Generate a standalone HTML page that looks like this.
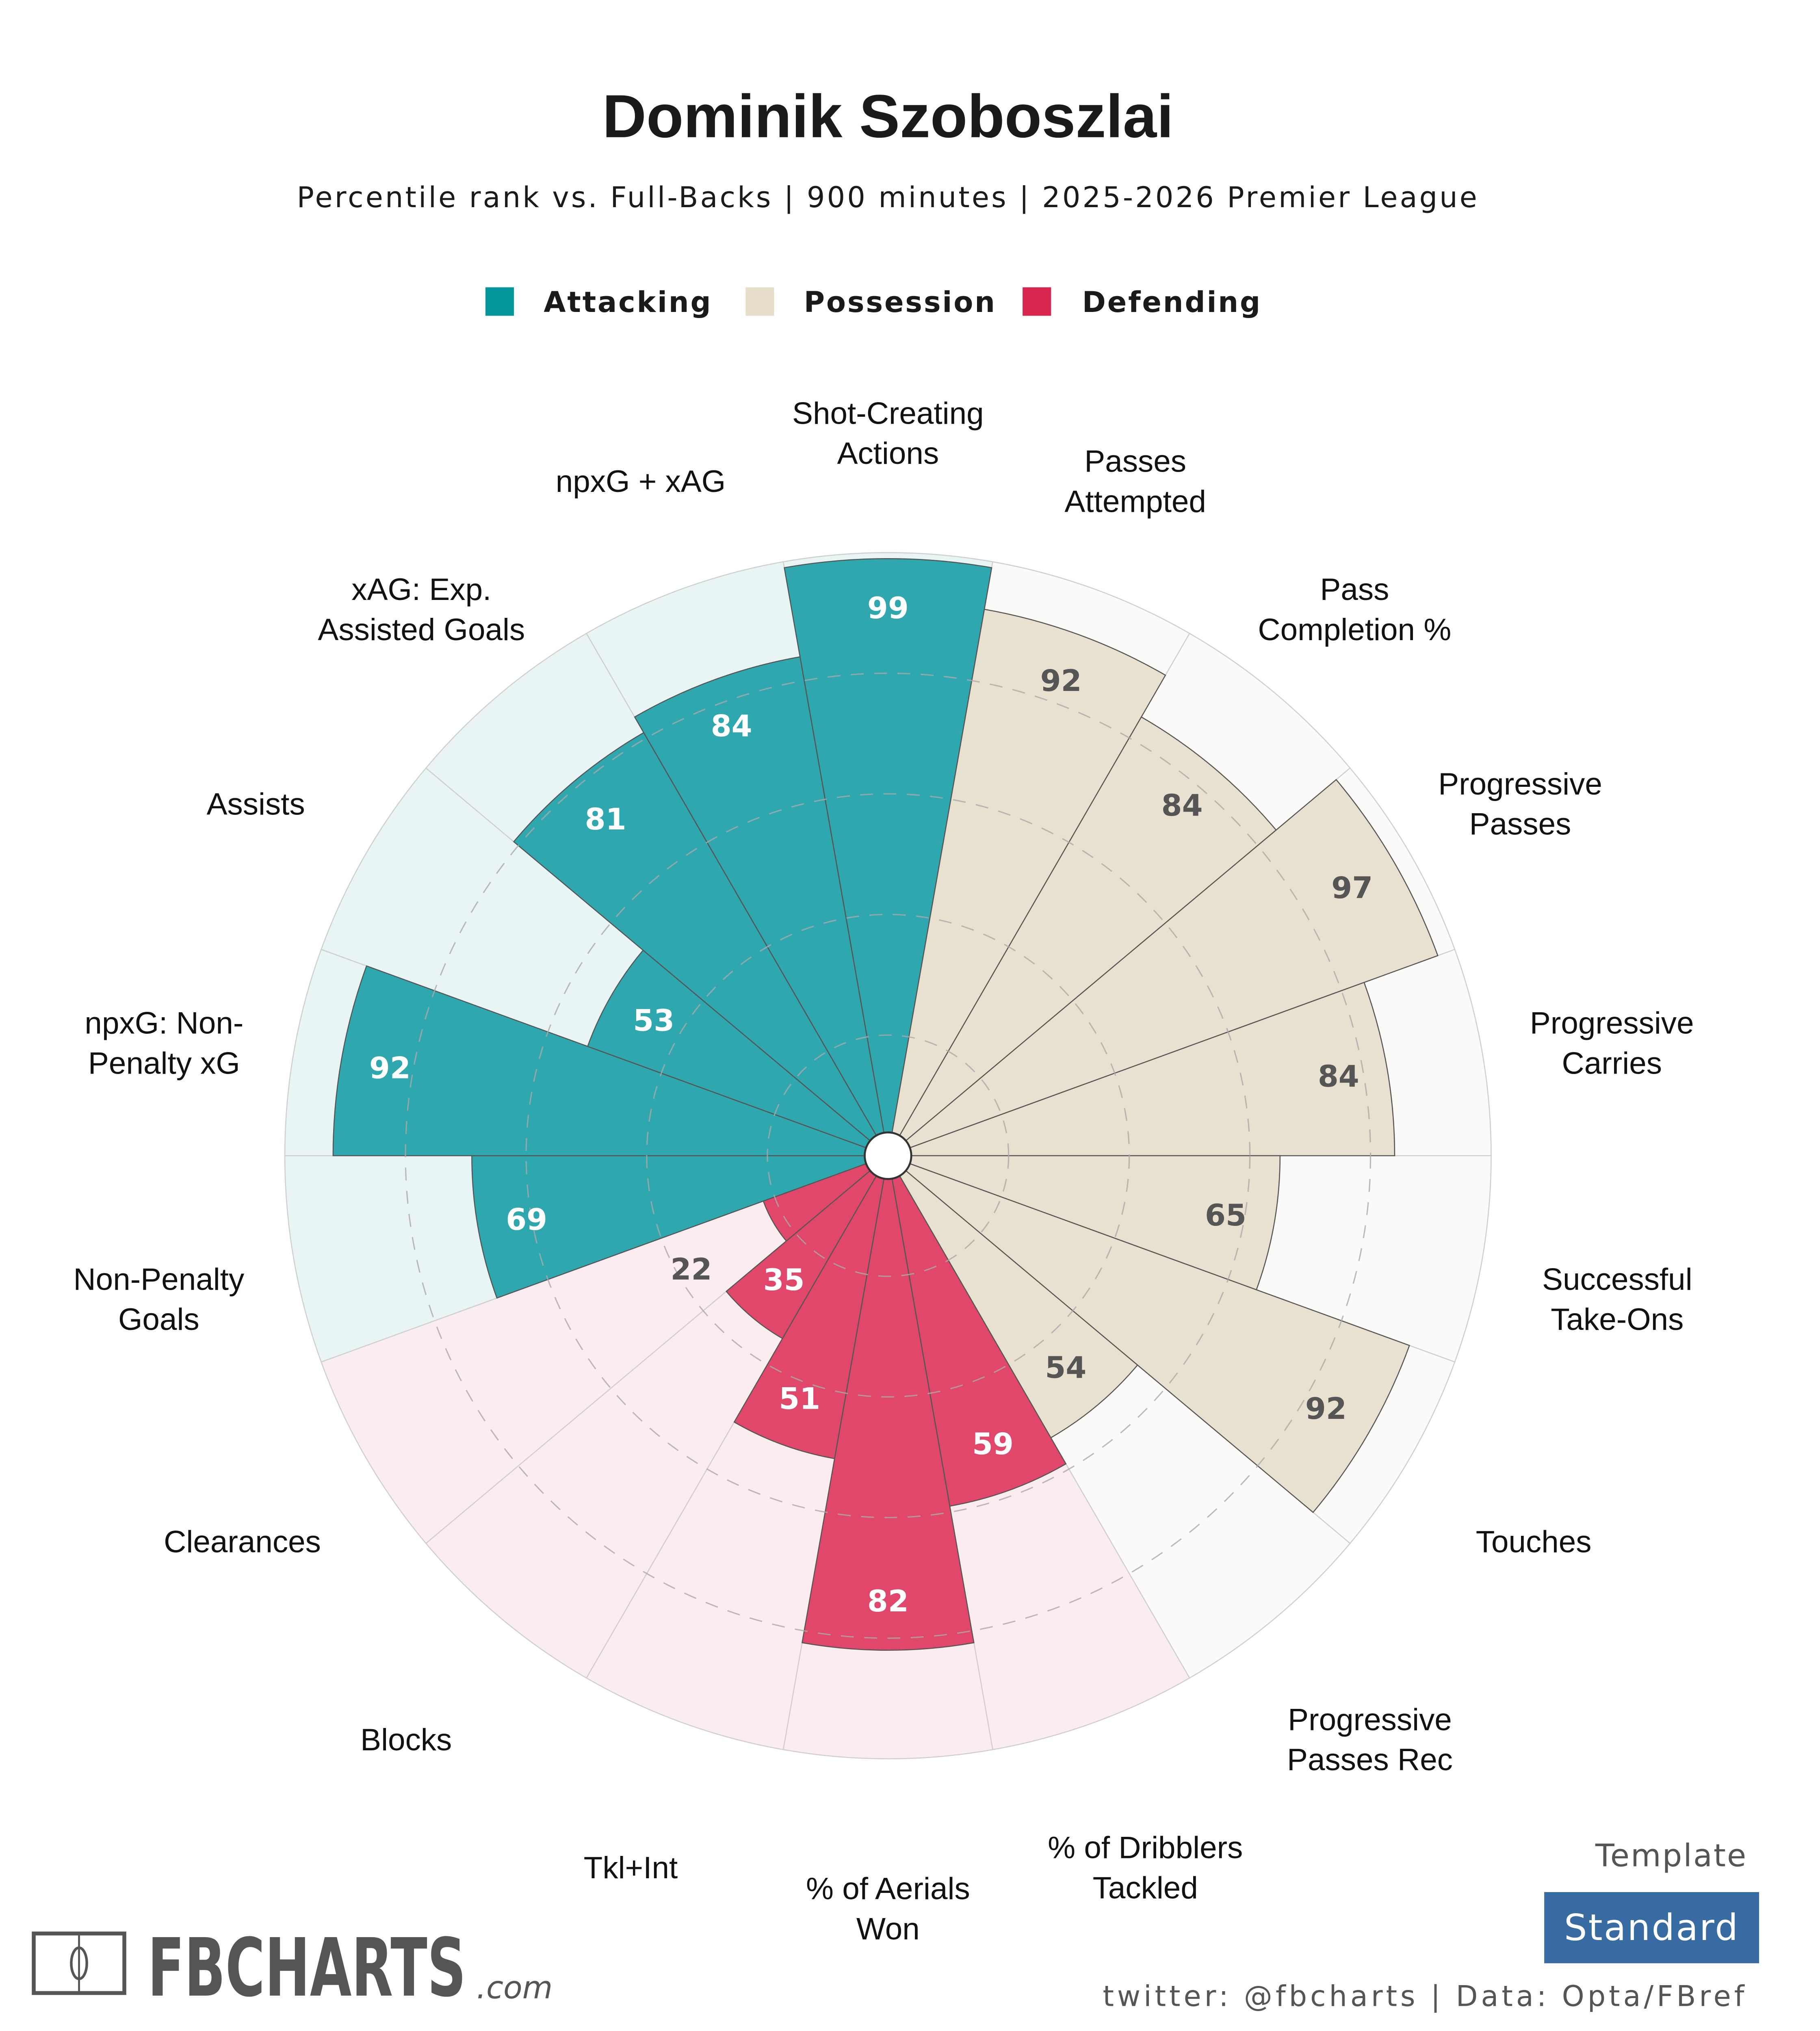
<!DOCTYPE html>
<html><head><meta charset="utf-8"><style>
html,body{margin:0;padding:0;background:#fff;width:4480px;height:5120px;overflow:hidden;}
svg{display:block;}
.lbl{font-family:"Liberation Sans",Arial,sans-serif;font-size:24px;fill:#111;}
.val{font-family:"DejaVu Sans",sans-serif;font-size:23px;font-weight:bold;}
</style></head><body>
<svg id="chart" width="4480" height="5120" viewBox="0 0 1406 1607" xmlns="http://www.w3.org/2000/svg">
<rect width="1406" height="1607" fill="#fff"/>
<text x="686" y="106" text-anchor="middle" font-family="Liberation Sans,Arial,sans-serif" font-weight="bold" font-size="47" fill="#1a1a1a">Dominik Szoboszlai</text>
<text x="686" y="160" text-anchor="middle" font-family="DejaVu Sans,sans-serif" font-size="22" fill="#1a1a1a" letter-spacing="1.6">Percentile rank vs. Full-Backs | 900 minutes | 2025-2026 Premier League</text>
<g>
<rect x="375" y="222" width="22" height="22" fill="#02979b"/>
<text x="420" y="241" font-family="DejaVu Sans,sans-serif" font-weight="bold" font-size="22" letter-spacing="1.2" fill="#1a1a1a">Attacking</text>
<rect x="576" y="222" width="22" height="22" fill="#e6dec8"/>
<text x="621" y="241" font-family="DejaVu Sans,sans-serif" font-weight="bold" font-size="22" letter-spacing="1.2" fill="#1a1a1a">Possession</text>
<rect x="790" y="222" width="22" height="22" fill="#d8264f"/>
<text x="836" y="241" font-family="DejaVu Sans,sans-serif" font-weight="bold" font-size="22" letter-spacing="1.2" fill="#1a1a1a">Defending</text>
</g>
<g id="plot"></g>
<g>
<rect x="26" y="1494" width="70" height="46" fill="none" stroke="#555" stroke-width="3"/>
<line x1="61" y1="1494" x2="61" y2="1540" stroke="#555" stroke-width="1.5"/>
<ellipse cx="61" cy="1517" rx="6" ry="12" fill="none" stroke="#555" stroke-width="2"/>
<text x="114" y="1542" font-family="DejaVu Sans,sans-serif" font-weight="bold" font-size="62" fill="#555" textLength="246" lengthAdjust="spacingAndGlyphs">FBCHARTS</text>
<text x="368" y="1544" font-family="DejaVu Sans,sans-serif" font-size="24" fill="#555" font-style="italic">.com</text>
</g>
<text x="1350" y="1442" text-anchor="end" font-family="DejaVu Sans,sans-serif" font-size="24" fill="#555" letter-spacing="1">Template</text>
<rect x="1193" y="1462" width="166" height="55" fill="#386ba2"/>
<text x="1276" y="1499" text-anchor="middle" font-family="DejaVu Sans,sans-serif" font-size="28" fill="#fff" letter-spacing="1">Standard</text>
<text x="1350" y="1550" text-anchor="end" font-family="DejaVu Sans,sans-serif" font-size="22" fill="#555" letter-spacing="2.5">twitter: @fbcharts | Data: Opta/FBref</text>
</svg>
<script>
const labels=[["Shot-Creating","Actions"],["Passes","Attempted"],["Pass","Completion %"],["Progressive","Passes"],["Progressive","Carries"],["Successful","Take-Ons"],["Touches"],["Progressive","Passes Rec"],["% of Dribblers","Tackled"],["% of Aerials","Won"],["Tkl+Int"],["Blocks"],["Clearances"],["Non-Penalty","Goals"],["npxG: Non-","Penalty xG"],["Assists"],["xAG: Exp.","Assisted Goals"],["npxG + xAG"]];
const values=[99,92,84,97,84,65,92,54,59,82,51,35,22,69,92,53,81,84];
const groups=["att","pos","pos","pos","pos","pos","pos","pos","def","def","def","def","def","att","att","att","att","att"];
const NS="http://www.w3.org/2000/svg";
const cx=686,cy=893,R=466;
const fills={att:"#2ea7ae",pos:"#e8e1d0",def:"#e0476a"};
const bgs={att:"#e9f5f5",pos:"#fbfaf8",def:"#fbecf0"};
const txt={att:"#fff",pos:"#555",def:"#fff"};
const g=document.getElementById('plot');
function rad(v){return v/100*R;}
function pt(r,a){const t=a*Math.PI/180;return [cx+r*Math.cos(t),cy-r*Math.sin(t)];}
function wedge(r,a0,a1){const p0=pt(r,a0),p1=pt(r,a1);return `M${cx},${cy}L${p0[0]},${p0[1]}A${r},${r} 0 0 1 ${p1[0]},${p1[1]}Z`;}
function mk(tag,attrs){const e=document.createElementNS(NS,tag);for(const k in attrs)e.setAttribute(k,attrs[k]);return e;}
const n=values.length,step=360/n;
values.forEach((v,i)=>{const c=90-i*step;
 const e=mk('path',{d:wedge(R,c+step/2,c-step/2),fill:bgs[groups[i]],stroke:"#cfcfcf","stroke-width":0.8});
 
 
 g.appendChild(e);});
values.forEach((v,i)=>{const c=90-i*step;
 const e=mk('path',{d:wedge(rad(v),c+step/2,c-step/2),fill:fills[groups[i]],stroke:"#555","stroke-width":0.8});
 
 
 g.appendChild(e);});
[0.2,0.4,0.6,0.8].forEach(f=>{const e=mk('circle',{cx:cx,cy:cy,r:R*f,fill:"none",stroke:"#aaa","stroke-width":1,"stroke-dasharray":"10 8",opacity:0.8});
 
 
 g.appendChild(e);});
const hole=mk('circle',{cx:cx,cy:cy,r:18,fill:"#fff",stroke:"#333","stroke-width":1.5});


g.appendChild(hole);
values.forEach((v,i)=>{const c=90-i*step;const r=rad(v);
 const small=v<30;const p=pt(small?r+73:r-38,c);
 const t=mk('text',{x:p[0],y:p[1]+8,"text-anchor":"middle","class":"val",fill:small?"#555":txt[groups[i]]});
 t.textContent=v;
 
 
 g.appendChild(t);
 const ca=c*Math.PI/180;
 const lr=570-12*Math.sin(ca);const q=pt(lr,c);
 const dy=12*Math.abs(Math.cos(ca));
 const lines=labels[i];
 const L=mk('text',{"class":"lbl","text-anchor":"middle"});
 
 
 lines.forEach((s,k)=>{const ts=mk('tspan',{x:q[0],y:q[1]+dy+8+(k-(lines.length-1)/2)*31});ts.textContent=s;L.appendChild(ts);});
 g.appendChild(L);});
</script>
</body></html>
